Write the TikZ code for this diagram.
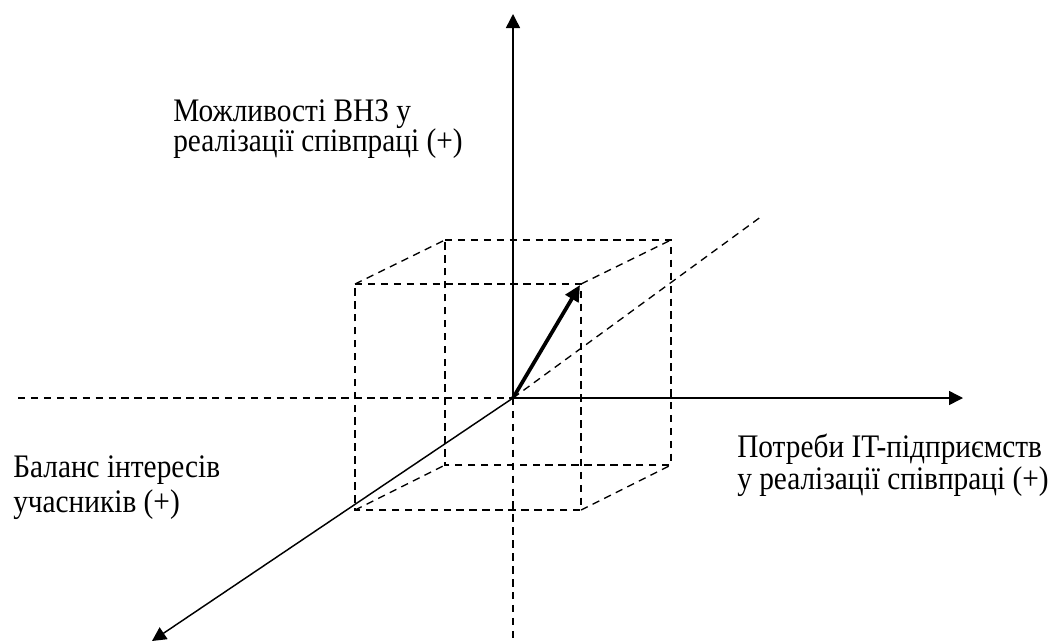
\documentclass[tikz,border=0pt]{standalone}
\usepackage{fontspec}
\setmainfont{Liberation Serif}
\usetikzlibrary{arrows.meta}
\newcommand{\stretchtext}[1]{\scalebox{1}[1.12]{#1}}
\begin{document}
\begin{tikzpicture}[x=0.75pt,y=-0.75pt,
  axis/.style={line width=1.1pt},
  dsh/.style={line width=1pt,dash pattern=on 5.6pt off 4.1pt},
  tip/.style={-{Triangle[length=10.5pt,width=10.5pt]}},
  lbl/.style={anchor=base west,inner sep=0pt,font=\fontsize{22}{24}\selectfont}]
\useasboundingbox (0,0) rectangle (1055,643);
% origin and axis ends
\coordinate (O) at (513,398);
\coordinate (Up) at (513,14);
\coordinate (Right) at (963,398);
\coordinate (Left) at (18,398);
\coordinate (Down) at (513,643);
\coordinate (LL) at (152,641);
\coordinate (Diag) at (762,216);
\coordinate (V) at (580,285);
% cube
\coordinate (F1) at (355,284);
\coordinate (F2) at (581,284);
\coordinate (F3) at (581,510);
\coordinate (F4) at (355,510);
\coordinate (B1) at (445,240);
\coordinate (B2) at (671,240);
\coordinate (B3) at (671,465);
\coordinate (B4) at (445,465);
\draw[dsh] (F1) -- (F2) -- (F3) -- (F4) -- cycle;
\draw[dsh] (B1) -- (B2) -- (B3) -- (B4) -- cycle;
\draw[dsh] (F1) -- (B1);
\draw[dsh] (F2) -- (B2);
\draw[dsh] (F3) -- (B3);
\draw[dsh] (F4) -- (B4);
\draw[dsh] (Left) -- (O);
\draw[dsh] (O) -- (Down);
\draw[dsh] (O) -- (Diag);
% axes
\draw[axis,tip] (O) -- (Up);
\draw[axis,tip] (O) -- (Right);
\draw[axis,tip] (O) -- (LL);
\draw[line width=2.8pt,-{Triangle[length=12pt,width=11pt]}] (O) -- (V);
% labels
\node[lbl] (t1a) at (173,121) {\stretchtext{Можливості ВНЗ у}};
\node[lbl] (t1b) at (173,151) {\stretchtext{реалізації співпраці (+)}};
\node[lbl] (t2a) at (737,457) {\stretchtext{Потреби IT-підприємств}};
\node[lbl] (t2b) at (737,489) {\stretchtext{у реалізації співпраці (+)}};
\node[lbl] (t3a) at (13,477) {\stretchtext{Баланс інтересів}};
\node[lbl] (t3b) at (13,512) {\stretchtext{учасників (+)}};
\end{tikzpicture}
\end{document}
